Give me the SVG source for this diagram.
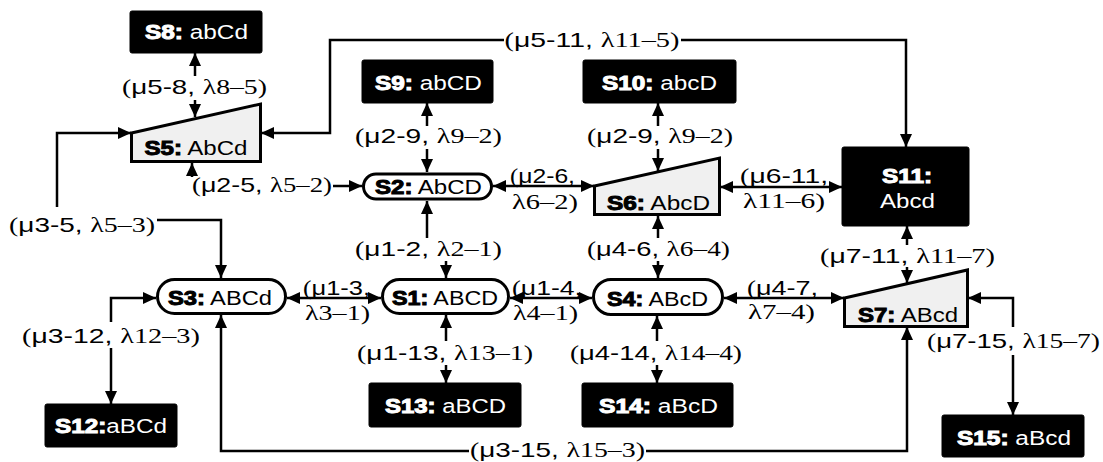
<svg xmlns="http://www.w3.org/2000/svg" width="1103" height="462" viewBox="0 0 1103 462">
<style>
.c{fill:none;stroke:#000;stroke-width:2.5}
.e{marker-end:url(#ah)}
.s{marker-start:url(#ah)}
.bx{fill:#000;stroke:#000;stroke-width:1}
.st{fill:#fff;stroke:#000;stroke-width:3}
.tz{fill:#f0f0f0;stroke:#000;stroke-width:3}
.t{font-family:"Liberation Sans",Arial,sans-serif;font-size:20px;text-anchor:middle}
.dk .t{fill:#fff}
.lt .t{fill:#000}
.b{font-weight:bold;stroke-width:1}
.dk .b{stroke:#fff}
.lt .b{stroke:#000}
.lb{font-family:"Liberation Serif","Times New Roman",serif;font-size:21px;fill:#000;text-anchor:middle}
.ar{font-family:"Liberation Sans",Arial,sans-serif}
</style>
<defs>
<marker id="ah" markerUnits="userSpaceOnUse" viewBox="0 0 13 12" markerWidth="13" markerHeight="12" refX="13" refY="6" orient="auto-start-reverse"><path d="M0,0 L13,6 L0,12 z" fill="#000"/></marker>
</defs>
<rect width="1103" height="462" fill="#fff"/>
<g id="connectors">
<path class="c e" d="M195,76 V53"/>
<path class="c e" d="M195,100 V117"/>
<path class="c e" d="M504,40 H330 V133 H261"/>
<path class="c e" d="M681,40 H906 V147"/>
<path class="c e" d="M57,207 V133 H131"/>
<path class="c e" d="M157,220 H221 V278"/>
<path class="c e" d="M192,177 V163"/>
<path class="c e" d="M333,186 H362"/>
<path class="c e" d="M427,126 V103"/>
<path class="c e" d="M427,149 V172"/>
<path class="c e" d="M658,126 V103"/>
<path class="c e" d="M658,149 V171"/>
<path class="c s e" d="M493,186 H594"/>
<path class="c s e" d="M720,187 H842"/>
<path class="c e" d="M658,238 V216"/>
<path class="c e" d="M658,261 V278"/>
<path class="c e" d="M427,238 V201"/>
<path class="c e" d="M446,261 V278"/>
<path class="c s e" d="M287,298 H381"/>
<path class="c s e" d="M510,298 H592"/>
<path class="c s e" d="M724,298 H844"/>
<path class="c e" d="M907,245 V226"/>
<path class="c e" d="M907,267 V283"/>
<path class="c e" d="M1013,327 V298 H968"/>
<path class="c e" d="M1013,355 V415"/>
<path class="c e" d="M111,322 V298 H156"/>
<path class="c e" d="M111,348 V404"/>
<path class="c e" d="M446,341 V315"/>
<path class="c e" d="M446,365 V383"/>
<path class="c e" d="M657,341 V316"/>
<path class="c e" d="M657,365 V383"/>
<path class="c e" d="M469,451 H221 V315"/>
<path class="c e" d="M646,451 H907 V327"/>
</g>
<g id="labels">
<text class="lb" x="194.5" y="94" textLength="145" lengthAdjust="spacingAndGlyphs">(<tspan class="ar">μ5-8, </tspan>λ8–5)</text>
<text class="lb" x="592" y="47" textLength="175" lengthAdjust="spacingAndGlyphs">(<tspan class="ar">μ5-11, </tspan>λ11–5)</text>
<text class="lb" x="82" y="232" textLength="146" lengthAdjust="spacingAndGlyphs">(<tspan class="ar">μ3-5, </tspan>λ5–3)</text>
<text class="lb" x="262" y="192" textLength="140" lengthAdjust="spacingAndGlyphs">(<tspan class="ar">μ2-5, </tspan>λ5–2)</text>
<text class="lb" x="428.5" y="143" textLength="147" lengthAdjust="spacingAndGlyphs">(<tspan class="ar">μ2-9, </tspan>λ9–2)</text>
<text class="lb" x="660" y="143" textLength="146" lengthAdjust="spacingAndGlyphs">(<tspan class="ar">μ2-9, </tspan>λ9–2)</text>
<text class="lb" x="542.5" y="183" textLength="65" lengthAdjust="spacingAndGlyphs">(<tspan class="ar">μ2-6,</tspan></text>
<text class="lb" x="545" y="209" textLength="66" lengthAdjust="spacingAndGlyphs">λ6–2)</text>
<text class="lb" x="784" y="183" textLength="88" lengthAdjust="spacingAndGlyphs">(<tspan class="ar">μ6-11,</tspan></text>
<text class="lb" x="784" y="208" textLength="82" lengthAdjust="spacingAndGlyphs">λ11–6)</text>
<text class="lb" x="658.5" y="256" textLength="143" lengthAdjust="spacingAndGlyphs">(<tspan class="ar">μ4-6, </tspan>λ6–4)</text>
<text class="lb" x="428.5" y="256" textLength="147" lengthAdjust="spacingAndGlyphs">(<tspan class="ar">μ1-2, </tspan>λ2–1)</text>
<text class="lb" x="907.5" y="263" textLength="175" lengthAdjust="spacingAndGlyphs">(<tspan class="ar">μ7-11, </tspan>λ11–7)</text>
<text class="lb" x="336.5" y="295" textLength="67" lengthAdjust="spacingAndGlyphs">(<tspan class="ar">μ1-3,</tspan></text>
<text class="lb" x="337.5" y="320" textLength="65" lengthAdjust="spacingAndGlyphs">λ3–1)</text>
<text class="lb" x="547" y="295" textLength="70" lengthAdjust="spacingAndGlyphs">(<tspan class="ar">μ1-4,</tspan></text>
<text class="lb" x="545.5" y="320" textLength="65" lengthAdjust="spacingAndGlyphs">λ4–1)</text>
<text class="lb" x="782.5" y="295" textLength="71" lengthAdjust="spacingAndGlyphs">(<tspan class="ar">μ4-7,</tspan></text>
<text class="lb" x="781.5" y="319" textLength="67" lengthAdjust="spacingAndGlyphs">λ7–4)</text>
<text class="lb" x="111" y="343" textLength="178" lengthAdjust="spacingAndGlyphs">(<tspan class="ar">μ3-12, </tspan>λ12–3)</text>
<text class="lb" x="445" y="360" textLength="176" lengthAdjust="spacingAndGlyphs">(<tspan class="ar">μ1-13, </tspan>λ13–1)</text>
<text class="lb" x="656" y="360" textLength="172" lengthAdjust="spacingAndGlyphs">(<tspan class="ar">μ4-14, </tspan>λ14–4)</text>
<text class="lb" x="557.5" y="457" textLength="175" lengthAdjust="spacingAndGlyphs">(<tspan class="ar">μ3-15, </tspan>λ15–3)</text>
<text class="lb" x="1013.5" y="348" textLength="173" lengthAdjust="spacingAndGlyphs">(<tspan class="ar">μ7-15, </tspan>λ15–7)</text>
</g>
<g id="S8" class="dk"><rect class="bx" x="130" y="11" width="132" height="42" rx="2"/><text class="t" x="196.5" y="39" textLength="103" lengthAdjust="spacingAndGlyphs"><tspan class="b">S8:</tspan> abCd</text></g>
<g id="S9" class="dk"><rect class="bx" x="362" y="60" width="131" height="43" rx="2"/><text class="t" x="428.5" y="90" textLength="107" lengthAdjust="spacingAndGlyphs"><tspan class="b">S9:</tspan> abCD</text></g>
<g id="S10" class="dk"><rect class="bx" x="583" y="60" width="153" height="43" rx="2"/><text class="t" x="659.5" y="90" textLength="115" lengthAdjust="spacingAndGlyphs"><tspan class="b">S10:</tspan> abcD</text></g>
<g id="S11" class="dk"><rect class="bx" x="842" y="147" width="127" height="79" rx="2"/><text class="t" x="907" y="183" textLength="50" lengthAdjust="spacingAndGlyphs"><tspan class="b">S11:</tspan></text><text class="t" x="907.5" y="208" textLength="55" lengthAdjust="spacingAndGlyphs">Abcd</text></g>
<g id="S12" class="dk"><rect class="bx" x="45" y="404" width="132" height="43" rx="2"/><text class="t" x="111" y="433" textLength="112" lengthAdjust="spacingAndGlyphs"><tspan class="b">S12:</tspan>aBCd</text></g>
<g id="S13" class="dk"><rect class="bx" x="369" y="383" width="152" height="44" rx="2"/><text class="t" x="445.5" y="413" textLength="121" lengthAdjust="spacingAndGlyphs"><tspan class="b">S13:</tspan> aBCD</text></g>
<g id="S14" class="dk"><rect class="bx" x="582" y="383" width="151" height="44" rx="2"/><text class="t" x="658.5" y="413" textLength="119" lengthAdjust="spacingAndGlyphs"><tspan class="b">S14:</tspan> aBcD</text></g>
<g id="S15" class="dk"><rect class="bx" x="942" y="415" width="142" height="42" rx="2"/><text class="t" x="1014" y="445" textLength="114" lengthAdjust="spacingAndGlyphs"><tspan class="b">S15:</tspan> aBcd</text></g>
<g id="S5" class="lt"><polygon class="tz" points="131.5,133 260.5,104 260.5,161.5 131.5,161.5"/><text class="t" x="196" y="155" textLength="103" lengthAdjust="spacingAndGlyphs"><tspan class="b">S5:</tspan> AbCd</text></g>
<g id="S6" class="lt"><polygon class="tz" points="594.5,186 719.5,158 719.5,214.5 594.5,214.5"/><text class="t" x="658.5" y="210" textLength="103" lengthAdjust="spacingAndGlyphs"><tspan class="b">S6:</tspan> AbcD</text></g>
<g id="S7" class="lt"><polygon class="tz" points="844.5,298 967.5,270 967.5,326.5 844.5,326.5"/><text class="t" x="908" y="322" textLength="100" lengthAdjust="spacingAndGlyphs"><tspan class="b">S7:</tspan> ABcd</text></g>
<g id="S2" class="lt"><rect class="st" x="363.5" y="174" width="128" height="25" rx="12.5"/><text class="t" x="428.5" y="194" textLength="107" lengthAdjust="spacingAndGlyphs"><tspan class="b">S2:</tspan> AbCD</text></g>
<g id="S1" class="lt"><rect class="st" x="382.5" y="279.5" width="126" height="34" rx="17"/><text class="t" x="445" y="305" textLength="106" lengthAdjust="spacingAndGlyphs"><tspan class="b">S1:</tspan> ABCD</text></g>
<g id="S3" class="lt"><rect class="st" x="157.5" y="279.5" width="128" height="34" rx="17"/><text class="t" x="220" y="305" textLength="104" lengthAdjust="spacingAndGlyphs"><tspan class="b">S3:</tspan> ABCd</text></g>
<g id="S4" class="lt"><rect class="st" x="593.5" y="279.5" width="129" height="35" rx="17.5"/><text class="t" x="657.5" y="306" textLength="101" lengthAdjust="spacingAndGlyphs"><tspan class="b">S4:</tspan> ABcD</text></g>
</svg>
